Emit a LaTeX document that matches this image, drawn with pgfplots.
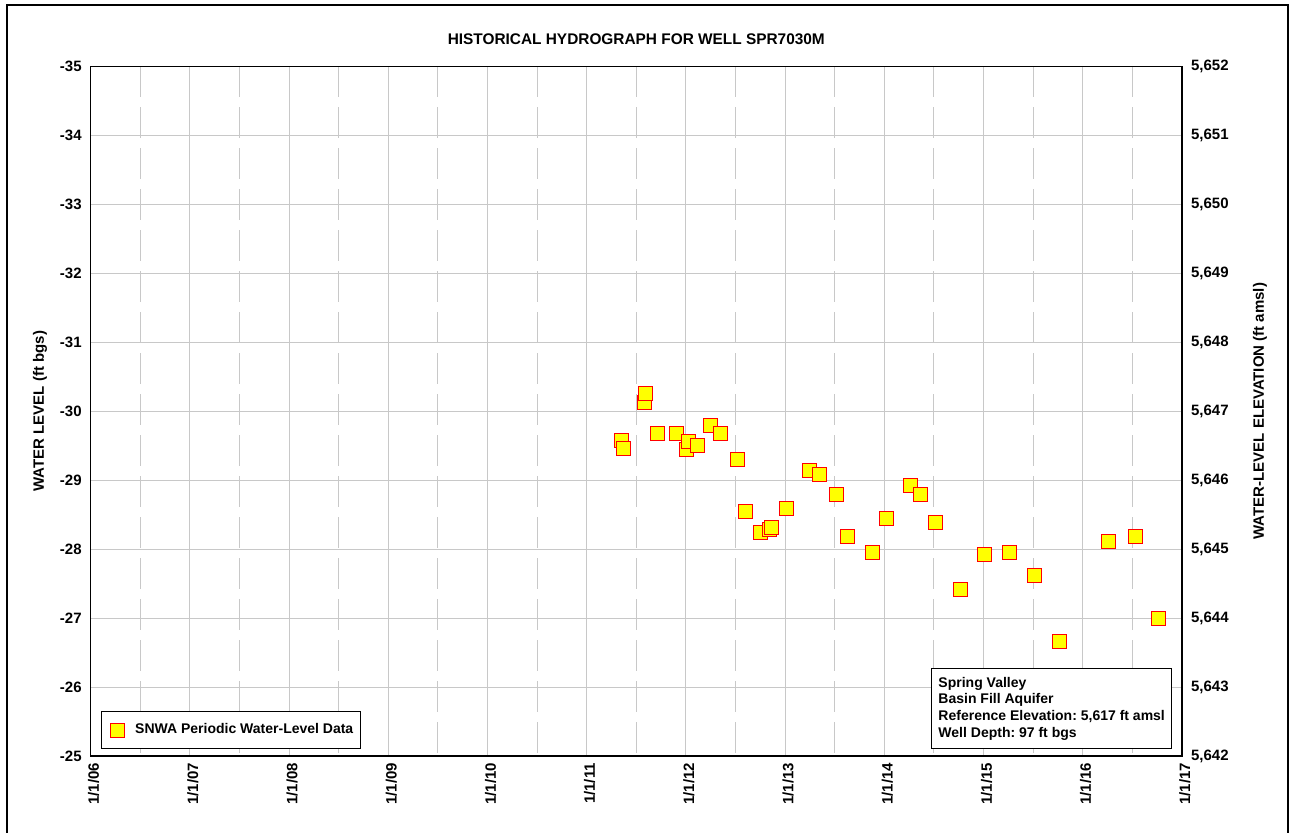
\documentclass[border=0pt]{standalone}
\usepackage{fontspec}
\setmainfont{Liberation Sans}
\usepackage{pgfplots}
\pgfplotsset{compat=1.18}
\frenchspacing

\definecolor{gridgray}{RGB}{200,200,200}
\definecolor{markyellow}{RGB}{255,255,0}
\definecolor{markred}{RGB}{255,0,0}

\newcommand{\tickfont}{\fontsize{7.5}{9}\bfseries\selectfont}
\newcommand{\boxfont}{\fontsize{7}{8.35}\bfseries\selectfont}

\begin{document}
\begin{tikzpicture}

% left axis: water level (ft bgs), reversed
\begin{axis}[
    scale only axis,
    width=545.65pt, height=344.85pt,
    xmin=2006, xmax=2017,
    ymin=-35, ymax=-25,
    y dir=reverse,
    xtick={2006,2007,...,2017},
    xticklabels={1/1/06,1/1/07,1/1/08,1/1/09,1/1/10,1/1/11,1/1/12,1/1/13,1/1/14,1/1/15,1/1/16,1/1/17},
    minor xtick={2006.5,2007.5,2008.5,2009.5,2010.5,2011.5,2012.5,2013.5,2014.5,2015.5,2016.5},
    ytick={-35,-34,...,-25},
    grid=both,
    major grid style={gridgray, line width=0.5pt},
    minor grid style={gridgray, line width=0.5pt, dash pattern=on 15.5pt off 5pt},
    axis line style={line width=0.75pt},
    tick style={draw=none},
    /pgf/number format/assume math mode=true,
    yticklabel style={font=\tickfont, xshift=-1pt},
    xticklabel style={font=\tickfont, rotate=90, anchor=east, yshift=-1.5pt},
    legend style={at={(0,0)}, anchor=south west, xshift=5pt, yshift=3.35pt,
        draw=black, line width=0.5pt, font=\boxfont, inner xsep=1.5pt, inner ysep=4pt},
    legend cell align=left,
    legend image code/.code={
        \path (0pt,0pt) (13pt,0pt);
        \draw[#1] plot coordinates {(6.5pt,0pt)};
    },
]

\addplot[only marks, mark=square*, mark size=3.5pt,
    mark options={fill=markyellow, draw=markred, line width=0.5pt}]
    coordinates {
        (2011.353, -29.58)
        (2011.369, -29.46)
        (2011.585, -30.13)
        (2011.588, -30.25)
        (2011.712, -29.68)
        (2011.903, -29.68)
        (2012.001, -29.45)
        (2012.024, -29.56)
        (2012.115, -29.50)
        (2012.250, -29.79)
        (2012.347, -29.68)
        (2012.518, -29.30)
        (2012.596, -28.54)
        (2012.750, -28.24)
        (2012.841, -28.29)
        (2012.865, -28.32)
        (2013.016, -28.59)
        (2013.248, -29.14)
        (2013.345, -29.08)
        (2013.518, -28.79)
        (2013.631, -28.18)
        (2013.883, -27.95)
        (2014.017, -28.45)
        (2014.266, -28.92)
        (2014.363, -28.79)
        (2014.514, -28.39)
        (2014.763, -27.41)
        (2015.012, -27.92)
        (2015.260, -27.95)
        (2015.512, -27.62)
        (2015.764, -26.66)
        (2016.262, -28.11)
        (2016.530, -28.18)
        (2016.759, -26.99)
    };
\addlegendentry{SNWA Periodic Water-Level Data}

% site information box
\node[draw=black, fill=white, line width=0.5pt, anchor=south east, align=left,
      font=\boxfont, inner xsep=3.3pt, inner ysep=4.3pt]
    at (rel axis cs:1,0) [xshift=-5pt, yshift=3.35pt]
    {Spring Valley\\Basin Fill Aquifer\\Reference Elevation: 5,617 ft amsl\\Well Depth: 97 ft bgs};
\end{axis}

% right axis: water-level elevation (ft amsl)
\begin{axis}[
    scale only axis,
    width=545.65pt, height=344.85pt,
    xmin=2006, xmax=2017,
    ymin=5642, ymax=5652,
    axis x line=none,
    axis y line*=right,
    ytick={5642,5643,...,5652},
    axis line style={line width=0.75pt},
    tick style={draw=none},
    /pgf/number format/assume math mode=true,
    /pgf/number format/1000 sep={,},
    yticklabel style={font=\tickfont, xshift=1pt},
]
\end{axis}

% titles and axis labels
\node[font=\fontsize{7.7}{9}\bfseries\selectfont] at (272.8pt,358.5pt)
    {HISTORICAL HYDROGRAPH FOR WELL SPR7030M};
\node[font=\tickfont, rotate=90] at (-25.35pt,172.4pt) {WATER LEVEL (ft bgs)};
\node[font=\tickfont, rotate=90] at (584.65pt,172.4pt) {WATER-LEVEL ELEVATION (ft amsl)};

% outer frame
\draw[line width=1pt] (-42pt,-40pt) -- (-42pt,375.5pt) -- (598.65pt,375.5pt) -- (598.65pt,-40pt);

\pgfresetboundingbox
\path (-45.35pt,-38pt) rectangle (601.15pt,378pt);
\end{tikzpicture}
\end{document}
